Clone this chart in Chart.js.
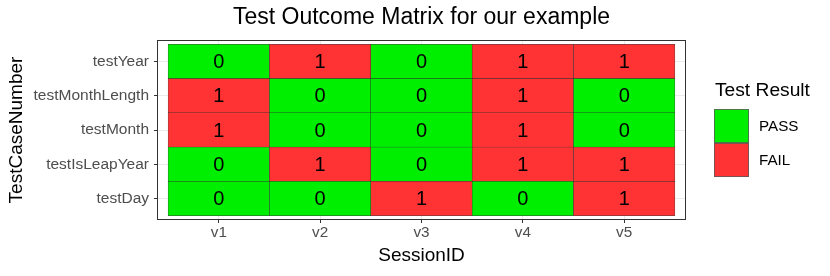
<!DOCTYPE html>
<html>
<head>
<meta charset="utf-8">
<script src="https://cdn.jsdelivr.net/npm/chart.js@4/dist/chart.umd.min.js"></script>
<style>
  html, body { margin: 0; padding: 0; background: #ffffff; }
  #wrap { width: 830px; height: 276px; }
</style>
</head>
<body>
<div id="wrap"><canvas id="c" width="830" height="276"></canvas></div>
<script>
// ---- data ----
const sessions = ['v1', 'v2', 'v3', 'v4', 'v5'];
// bottom to top
const testCases = ['testDay', 'testIsLeapYear', 'testMonth', 'testMonthLength', 'testYear'];
const testDay         = [0, 0, 1, 0, 1];
const testIsLeapYear  = [0, 1, 0, 1, 1];
const testMonth       = [1, 0, 0, 1, 0];
const testMonthLength = [1, 0, 0, 1, 0];
const testYear        = [0, 1, 0, 1, 1];
const resultLabels = ['PASS', 'FAIL']; // 0 = PASS, 1 = FAIL

const rows = [testDay, testIsLeapYear, testMonth, testMonthLength, testYear];
const COL_PASS = '#00EE00';
const COL_FAIL = '#FF3333';
const FONT = "'Liberation Sans', Arial, Helvetica, sans-serif";

const datasets = rows.map((vals, r) => ({
  label: testCases[r],
  data: vals.map((v, i) => ({ x: i + 1, y: [r + 0.5, r + 1.5], v: v })),
  backgroundColor: vals.map(v => v === 1 ? COL_FAIL : COL_PASS),
  borderColor: 'rgba(40,40,40,0.9)',
  borderWidth: 0.5,
  borderSkipped: false,
  grouped: false,
  barPercentage: 1,
  categoryPercentage: 1
}));

const cellText = {
  id: 'cellText',
  afterDatasetsDraw(chart) {
    const ctx = chart.ctx;
    ctx.save();
    ctx.fillStyle = '#000';
    ctx.font = '20px ' + FONT;
    ctx.textAlign = 'center';
    ctx.textBaseline = 'middle';
    chart.data.datasets.forEach((ds, di) => {
      chart.getDatasetMeta(di).data.forEach((el, i) => {
        const yc = (el.y + el.base) / 2;
        ctx.fillText(String(ds.data[i].v), el.x, yc + 1);
      });
    });
    ctx.restore();
  }
};

const panelBorder = {
  id: 'panelBorder',
  afterDraw(chart) {
    const a = chart.chartArea, ctx = chart.ctx;
    ctx.save();
    ctx.strokeStyle = '#333333';
    ctx.lineWidth = 1;
    ctx.strokeRect(Math.round(a.left) - 0.5, Math.round(a.top) - 0.5,
                   Math.round(a.right - a.left) + 1, Math.round(a.bottom - a.top) + 1);
    ctx.restore();
  }
};

const customLegend = {
  id: 'customLegend',
  afterDraw(chart) {
    const ctx = chart.ctx;
    ctx.save();
    ctx.fillStyle = '#000';
    ctx.font = '19.2px ' + FONT;
    ctx.textAlign = 'left';
    ctx.textBaseline = 'middle';
    ctx.fillText('Test Result', 715, 91);
    const cols = [COL_PASS, COL_FAIL];
    const x = 714, w = 35, h = 34, y0 = 109;
    cols.forEach((c, i) => {
      ctx.fillStyle = c;
      ctx.fillRect(x, y0 + i * h, w, h);
      ctx.strokeStyle = 'rgba(90,90,90,0.8)';
      ctx.lineWidth = 1;
      ctx.strokeRect(x + 0.5, y0 + i * h + 0.5, w - 1, h - 1);
    });
    ctx.fillStyle = '#000';
    ctx.font = '15.2px ' + FONT;
    resultLabels.forEach((t, i) => ctx.fillText(t, 759, y0 + i * h + h / 2 + 1));
    ctx.restore();
  }
};

new Chart(document.getElementById('c'), {
  type: 'bar',
  data: { datasets },
  plugins: [cellText, panelBorder, customLegend],
  options: {
    responsive: false,
    animation: false,
    devicePixelRatio: 1,
    layout: { padding: { left: 0, right: 145, top: 0, bottom: 0 } },
    plugins: {
      legend: { display: false },
      tooltip: { enabled: false },
      title: {
        display: true,
        fullSize: false,
        text: 'Test Outcome Matrix for our example',
        color: '#000',
        font: { family: FONT, size: 23, weight: 'normal', lineHeight: 1.2 },
        padding: { top: 4.2, bottom: 9.2 }
      }
    },
    scales: {
      x: {
        type: 'linear',
        min: 0.4, max: 5.6,
        offset: false,
        afterBuildTicks: s => { s.ticks = sessions.map((_, i) => ({ value: i + 1 })); },
        afterFit: s => { s.height = 57; },
        ticks: {
          callback: v => sessions[v - 1],
          color: '#4D4D4D',
          font: { family: FONT, size: 15.3 },
          padding: 1,
          maxRotation: 0
        },
        grid: { offset: false, color: '#EBEBEB', lineWidth: 1, tickColor: '#333333', tickLength: 4, drawTicks: true },
        border: { display: false },
        title: {
          display: true, text: 'SessionID', color: '#000',
          font: { family: FONT, size: 19, lineHeight: 1.2 },
          padding: { top: 0, bottom: 8.6 }
        }
      },
      y: {
        type: 'linear',
        min: 0.4, max: 5.6,
        offset: false,
        afterBuildTicks: s => { s.ticks = testCases.map((_, i) => ({ value: i + 1 })); },
        afterFit: s => { s.width = 158; },
        ticks: {
          callback: v => testCases[v - 1],
          color: '#4D4D4D',
          font: { family: FONT, size: 15.5 },
          padding: 5
        },
        grid: { offset: false, color: '#EBEBEB', lineWidth: 1, tickColor: '#333333', tickLength: 4, drawTicks: true },
        border: { display: false },
        title: {
          display: true, text: 'TestCaseNumber', color: '#000',
          font: { family: FONT, size: 19, lineHeight: 1.2 },
          padding: { top: 5.6, bottom: 0 }
        }
      }
    }
  }
});
</script>
</body>
</html>
